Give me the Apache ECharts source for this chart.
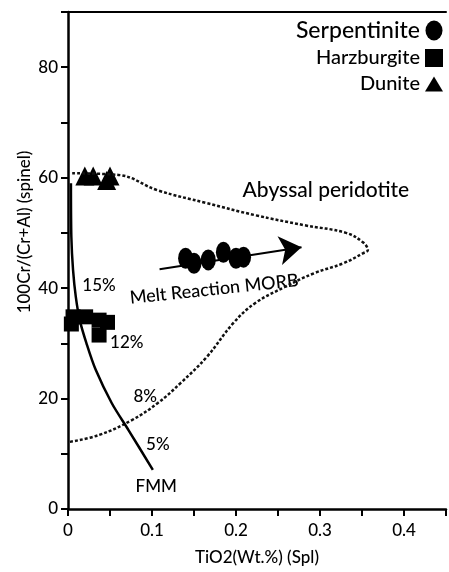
<!DOCTYPE html>
<html>
<head>
<meta charset="utf-8">
<script src="https://cdn.jsdelivr.net/npm/echarts@6/dist/echarts.min.js"></script>
<style>
html, body { margin: 0; padding: 0; background: #fff; }
#chart { width: 449px; height: 572px; }
</style>
</head>
<body>
<div id="chart"></div>
<script>
// points, [TiO2 wt%, 100Cr/(Cr+Al)]
const serpentinite = [[0.140, 45.4], [0.150, 44.5], [0.167, 45.1], [0.185, 46.5], [0.200, 45.4], [0.209, 45.6]];
const harzburgite = [[0.004, 33.5], [0.006, 34.8], [0.021, 34.8], [0.037, 34.2], [0.047, 33.8], [0.037, 31.5]];
const dunite = [[0.020, 60.3], [0.030, 60.3], [0.046, 59.5], [0.050, 60.3]];

// FMM melting trend
const fmmCurve = [[0.0035, 59], [0.004, 49.2], [0.006, 43.3], [0.0093, 38.4], [0.014, 34.2], [0.022, 30.0],
  [0.033, 25.2], [0.052, 19.2], [0.072, 14.3], [0.101, 7.1]];

// abyssal peridotite field outline
const abyssalField = [[0.005, 60.8], [0.060, 60.5], [0.107, 57.7], [0.165, 55.4], [0.223, 53.2], [0.281, 51.4],
  [0.331, 50.0], [0.351, 48.3], [0.357, 46.9], [0.351, 46.3], [0.328, 44.5], [0.293, 42.7], [0.258, 40.2],
  [0.223, 37.3], [0.197, 33.7], [0.165, 27.5], [0.134, 22.8], [0.107, 19.2], [0.076, 16.1], [0.037, 13.4],
  [0.0, 12.1]];

const meltArrow = [[0.109, 43.4], [0.278, 47.4]];

const noteText = ['15%', '12%', '8%', '5%', 'FMM', 'Abyssal peridotite', 'Melt Reaction MORB'];
const notePos = [[0.037, 40.5], [0.070, 30.2], [0.092, 20.3], [0.107, 11.6], [0.105, 4.0], [0.307, 57.7], [0.174, 39.8]];

const ink = '#000';
const ellipse = 'path://M8.5,0A8.5,10,0,1,1,8.5,20A8.5,10,0,1,1,8.5,0Z';
const square = 'path://M0,0H10V10H0Z';
const tri = 'path://M9,0L18,15H0Z';

const chart = echarts.init(document.getElementById('chart'));

chart.setOption({
  animation: false,
  textStyle: { fontFamily: 'Lato', color: ink, fontWeight: 500 },
  grid: { left: 68, top: 12, bottom: 63, right: -6 },
  legend: {
    orient: 'vertical',
    align: 'right',
    right: 1,
    top: 14,
    itemWidth: 18,
    itemHeight: 20,
    itemGap: 6,
    selectedMode: false,
    textStyle: { color: ink, fontWeight: 500 },
    data: [
      { name: 'Serpentinite', icon: ellipse, itemStyle: { color: ink, opacity: 1 }, textStyle: { fontSize: 23 } },
      { name: 'Harzburgite', icon: square, itemStyle: { color: ink, opacity: 1 }, textStyle: { fontSize: 20 } },
      { name: 'Dunite', icon: tri, itemStyle: { color: ink, opacity: 1 }, textStyle: { fontSize: 20 } }
    ]
  },
  graphic: [{
    type: 'text',
    x: 25,
    y: 232,
    rotation: Math.PI / 2,
    style: {
      text: '100Cr/(Cr+Al) (spinel)',
      fontFamily: 'Lato',
      fontWeight: 500,
      fontSize: 17,
      fill: ink,
      align: 'center',
      verticalAlign: 'middle'
    }
  }],
  xAxis: [{
    type: 'value',
    min: 0,
    max: 0.45,
    interval: 0.05,
    name: 'TiO2(Wt.%) (Spl)',
    nameLocation: 'middle',
    nameGap: 40,
    nameTextStyle: { fontSize: 17, color: ink, fontWeight: 500 },
    axisLine: { show: true, lineStyle: { color: ink, width: 2.5 } },
    axisTick: { show: true, length: 7, lineStyle: { color: ink, width: 2 } },
    axisLabel: {
      margin: 13,
      fontSize: 17,
      color: ink,
      fontWeight: 500,
      formatter: function (v) {
        const k = Math.round(v * 20);
        if (k % 2 !== 0 || k > 8) return '';
        return k === 0 ? '0' : (k / 20).toFixed(1);
      }
    },
    splitLine: { show: false }
  }, {
    type: 'value',
    position: 'top',
    min: 0,
    max: 0.45,
    axisLine: { show: true, lineStyle: { color: ink, width: 2 } },
    axisTick: { show: false },
    axisLabel: { show: false },
    splitLine: { show: false }
  }],
  yAxis: {
    type: 'value',
    min: 0,
    max: 90,
    interval: 10,
    axisLine: { show: true, lineStyle: { color: ink, width: 2.5 } },
    axisTick: { show: true, length: 7, lineStyle: { color: ink, width: 2 } },
    axisLabel: {
      margin: 10,
      fontSize: 17,
      color: ink,
      fontWeight: 500,
      formatter: function (v) {
        return (v % 20 === 0 && v < 90) ? String(v) : '';
      }
    },
    splitLine: { show: false }
  },
  series: [
    {
      name: 'Abyssal field',
      type: 'line',
      data: abyssalField,
      smooth: 0.4,
      symbol: 'none',
      silent: true,
      lineStyle: { color: '#111', width: 2.5, type: [3, 2] }
    },
    {
      name: 'FMM',
      type: 'line',
      data: fmmCurve,
      smooth: 0.3,
      symbol: 'none',
      silent: true,
      lineStyle: { color: ink, width: 2.5 }
    },
    {
      name: 'Melt arrow',
      type: 'lines',
      coordinateSystem: 'cartesian2d',
      polyline: false,
      silent: true,
      symbol: ['none', 'arrow'],
      symbolSize: [0, 22],
      lineStyle: { color: ink, width: 2, opacity: 1 },
      data: [{ coords: meltArrow }]
    },
    {
      name: 'Dunite',
      type: 'scatter',
      data: dunite,
      symbol: 'triangle',
      symbolSize: [19, 19],
      itemStyle: { color: ink, opacity: 1 }
    },
    {
      name: 'Harzburgite',
      type: 'scatter',
      data: harzburgite,
      symbol: 'rect',
      symbolSize: 15,
      itemStyle: { color: ink, opacity: 1 }
    },
    {
      name: 'Serpentinite',
      type: 'scatter',
      data: serpentinite,
      symbol: ellipse,
      symbolSize: [15, 21],
      itemStyle: { color: ink, opacity: 1 }
    },
    {
      name: 'notes',
      type: 'scatter',
      silent: true,
      symbolSize: 1,
      itemStyle: { color: 'rgba(0,0,0,0)', opacity: 1 },
      data: noteText.map(function (t, i) {
        const big = t === 'Abyssal peridotite';
        const melt = t === 'Melt Reaction MORB';
        return {
          name: t,
          value: notePos[i],
          label: {
            show: true,
            position: 'inside',
            formatter: '{b}',
            color: ink,
            opacity: 1,
            fontWeight: 500,
            fontSize: big ? 21 : (melt ? 18 : 17),
            rotate: melt ? 6 : 0
          }
        };
      })
    }
  ]
});
</script>
</body>
</html>
